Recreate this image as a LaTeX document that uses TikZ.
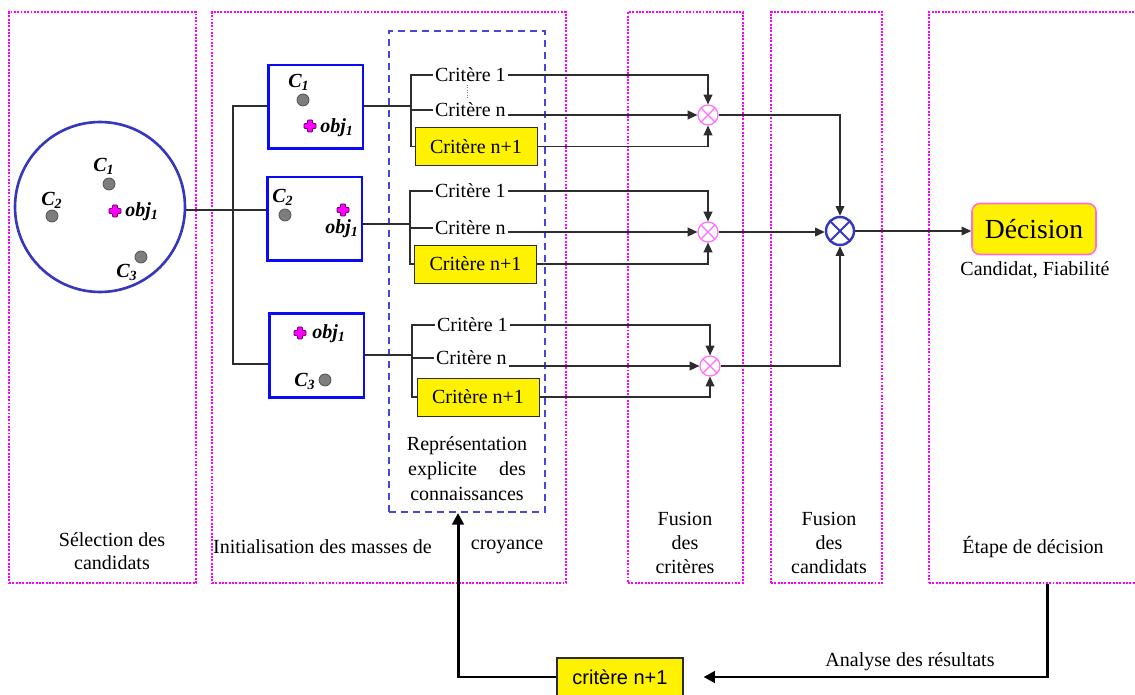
\documentclass[tikz,border=0pt]{standalone}
\usepackage{fontspec}
\setmainfont{Liberation Serif}
\newfontfamily\arialf{Liberation Sans}
\usetikzlibrary{arrows.meta}
\definecolor{pinkd}{RGB}{255,0,255}
\definecolor{dashblue}{RGB}{70,70,215}
\definecolor{boxblue}{RGB}{10,10,245}
\definecolor{circblue}{RGB}{55,55,190}
\definecolor{fuspink}{RGB}{255,110,255}
\definecolor{dotgray}{RGB}{125,125,125}
\definecolor{linegray}{RGB}{45,45,45}
\definecolor{decpink}{RGB}{255,110,210}
\tikzset{
  base/.style={font=\fontsize{11.4}{13.4}\selectfont, inner sep=1pt},
  pinkbox/.style={draw=pinkd, line width=1.5pt, dash pattern=on 1.1pt off 0.8pt},
  dashbox/.style={draw=dashblue, line width=1.3pt, dash pattern=on 4pt off 2.8pt},
  candbox/.style={draw=boxblue, line width=1.7pt, minimum width=1.9cm, minimum height=1.68cm, inner sep=0},
  gdot/.style={circle, fill=dotgray, draw=dotgray!60!black, line width=0.4pt, minimum size=0.24cm, inner sep=0},
  lbl/.style={base, font=\fontsize{11.4}{13.4}\selectfont\bfseries\itshape},
  crit/.style={base, anchor=west},
  ybox/.style={base, draw=linegray, line width=0.5pt, fill=yellow, minimum width=2.44cm, minimum height=0.76cm, inner sep=0},
  fus/.style={circle, draw=fuspink, minimum size=0.4cm, inner sep=0, line width=0.7pt,
    path picture={\draw[fuspink, line width=0.7pt]
      (path picture bounding box.north west) -- (path picture bounding box.south east)
      (path picture bounding box.north east) -- (path picture bounding box.south west);}},
  bigfus/.style={circle, draw=circblue, minimum size=0.56cm, inner sep=0, line width=1.4pt,
    path picture={\draw[circblue, line width=1.1pt]
      (path picture bounding box.north west) -- (path picture bounding box.south east)
      (path picture bounding box.north east) -- (path picture bounding box.south west);}},
  ln/.style={draw=linegray, line width=0.6pt},
  arr/.style={ln, -{Triangle[length=5.5pt,width=5pt]}},
  big/.style={draw=black, line width=1.7pt, -{Triangle[length=6.5pt,width=6.5pt]}},
  objm/.pic={\draw[fill=pinkd, draw=black!60!pinkd, line width=0.5pt, rounded corners=0.5pt]
    (-6,-2.5) -- (-2.5,-2.5) -- (-2.5,-6) -- (2.5,-6) -- (2.5,-2.5) -- (6,-2.5) -- (6,2.5)
    -- (2.5,2.5) -- (2.5,6) -- (-2.5,6) -- (-2.5,2.5) -- (-6,2.5) -- cycle;}
}
\begin{document}
\begin{tikzpicture}[x=0.02cm, y=-0.02cm]
\useasboundingbox (0,0) rectangle (1135,695);
\fill[white] (0,0) rectangle (1135,695);

% pink stage boxes
\node[pinkbox, minimum width=3.74cm, minimum height=11.42cm] (p1) at (102.5,297.5) {};
\node[pinkbox, minimum width=7.08cm, minimum height=11.42cm] (p2) at (389,297.5) {};
\node[pinkbox, minimum width=2.3cm, minimum height=11.42cm] (p3) at (685.5,297.5) {};
\node[pinkbox, minimum width=2.22cm, minimum height=11.42cm] (p4) at (826.5,297.5) {};
\node[pinkbox, minimum width=4.22cm, minimum height=11.42cm] (p5) at (1034.5,297.5) {};

% knowledge box
\node[dashbox, minimum width=3.12cm, minimum height=9.62cm] (rep) at (467,271.5) {};

% selection circle
\node[circle, draw=circblue, line width=1.5pt, minimum size=3.4cm, inner sep=0] (circ) at (100,207) {};
\node[gdot] (d1) at (109,184) {};
\node[gdot] (d2) at (52,216) {};
\node[gdot] (d3) at (141,257) {};
\pic at (115,211) {objm};
\node[lbl] (l1) at (104,166) {C\textsubscript{1}};
\node[lbl] (l2) at (52,200) {C\textsubscript{2}};
\node[lbl] (l3) at (127,272) {C\textsubscript{3}};
\node[lbl] (lo) at (142,212) {obj\textsubscript{1}};

% candidate boxes
\node[candbox] (bA) at (315.5,107) {};
\node[candbox] (bB) at (314.5,219) {};
\node[candbox] (bC) at (316.5,355.5) {};
\node[gdot] (dA) at (303,100) {};
\node[lbl] (lA) at (299,82) {C\textsubscript{1}};
\pic at (310,126) {objm};
\node[lbl] (oA) at (337,128) {obj\textsubscript{1}};
\node[gdot] (dB) at (285,215) {};
\node[lbl] (lB) at (283,197) {C\textsubscript{2}};
\pic at (343,210) {objm};
\node[lbl] (oB) at (342,229) {obj\textsubscript{1}};
\pic at (300,333) {objm};
\node[lbl] (oC) at (329,334) {obj\textsubscript{1}};
\node[gdot] (dC) at (325,380) {};
\node[lbl] (lC) at (305,381) {C\textsubscript{3}};

% connections circle -> boxes
\coordinate (t0) at (233,210);
\coordinate (tA) at (233,106);
\coordinate (tC) at (233,364);
\draw[ln] (circ.east |- t0) -- (bB.west |- t0);
\draw[ln] (bA.west |- tA) -- (tA) -- (tC) -- (bC.west |- tC);

% criteria group 1
\node[crit] (c11) at (433,75) {Critère 1};
\node[crit] (c1n) at (433,110) {Critère n};
\node[ybox] (y1) at (476,146.5) {Critère n+1};
\draw[densely dotted, gray] (467,85) -- (467,99);
\coordinate (g1) at (411,106);
\draw[ln] (bA.east |- g1) -- (g1);
\draw[ln] (c11.west) -- (c11.west -| g1) -- (y1.west -| g1) -- (y1.west);
\draw[ln] (c1n.west -| g1) -- (c1n.west);

% criteria group 2
\node[crit] (c21) at (433,191) {Critère 1};
\node[crit] (c2n) at (433,228) {Critère n};
\node[ybox] (y2) at (475.5,264) {Critère n+1};
\coordinate (g2) at (410,224);
\draw[ln] (bB.east |- g2) -- (g2);
\draw[ln] (c21.west) -- (c21.west -| g2) -- (y2.west -| g2) -- (y2.west);
\draw[ln] (c2n.west -| g2) -- (c2n.west);

% criteria group 3
\node[crit] (c31) at (435,325) {Critère 1};
\node[crit] (c3n) at (434,358) {Critère n};
\node[ybox] (y3) at (478,397) {Critère n+1};
\coordinate (g3) at (412,355);
\draw[ln] (bC.east |- g3) -- (g3);
\draw[ln] (c31.west) -- (c31.west -| g3) -- (y3.west -| g3) -- (y3.west);
\draw[ln] (c3n.west -| g3) -- (c3n.west);

% fusion nodes
\node[fus] (f1) at (708,115) {};
\node[fus] (f2) at (708,232) {};
\node[fus] (f3) at (710,366) {};
\node[bigfus] (B) at (840,231) {};

\draw[arr] (c11.east) -| (f1.north);
\draw[arr] (c1n.east |- f1) -- (f1.west);
\draw[arr] (y1.east) -| (f1.south);
\draw[arr] (c21.east) -| (f2.north);
\draw[arr] (c2n.east |- f2) -- (f2.west);
\draw[arr] (y2.east) -| (f2.south);
\draw[arr] (c31.east) -| (f3.north);
\draw[arr] (c3n.east |- f3) -- (f3.west);
\draw[arr] (y3.east) -| (f3.south);

\draw[arr] (f1.east) -| (B.north);
\draw[arr] (f2.east) -- (f2.east -| B.west);
\draw[arr] (f3.east) -| (B.south);

% decision
\node[base, draw=decpink, line width=0.9pt, fill=yellow, rounded corners=0.16cm,
      minimum width=2.48cm, minimum height=1.02cm,
      font=\fontsize{15.7}{18}\selectfont] (dec) at (1034,229) {Décision};
\draw[arr] (B.east) -- (B.east -| dec.west);
\node[base] (cf) at (1035,270) {Candidat, Fiabilité};

% stage labels
\node[base, align=center] (tsel) at (112,551) {Sélection des\\candidats};
\node[base, anchor=west] (tinit) at (211,547) {Initialisation des masses de};
\node[base] (tcroy) at (507,547) {croyance};
\node[base, align=center, font=\fontsize{11.4}{14.2}\selectfont] (trep) at (467,469)
  {Représentation\\explicite\hspace{1.1em}des\\connaissances};
\node[base, align=center, font=\fontsize{11.4}{13.7}\selectfont] (tfc) at (685,543) {Fusion\\des\\critères};
\node[base, align=center, font=\fontsize{11.4}{13.7}\selectfont] (tfd) at (829,543) {Fusion\\des\\candidats};
\node[base] (tet) at (1033,547) {Étape de décision};

% feedback loop
\node[base, draw=linegray, line width=0.6pt, fill=yellow, minimum width=2.52cm, minimum height=0.76cm,
      inner sep=0, font=\arialf\fontsize{11.4}{13.4}\selectfont] (cb) at (620,677) {critère n+1};
\node[base] (tan) at (910,662) {Analyse des résultats};
\coordinate (fbx) at (1047,677);
\coordinate (fb) at (458,677);
\draw[big, shorten >=0.4cm] (p5.south -| fbx) -- (fbx) -- (cb.east);
\draw[big] (cb.west) -- (fb) -- (rep.south -| fb);
\end{tikzpicture}
\end{document}
